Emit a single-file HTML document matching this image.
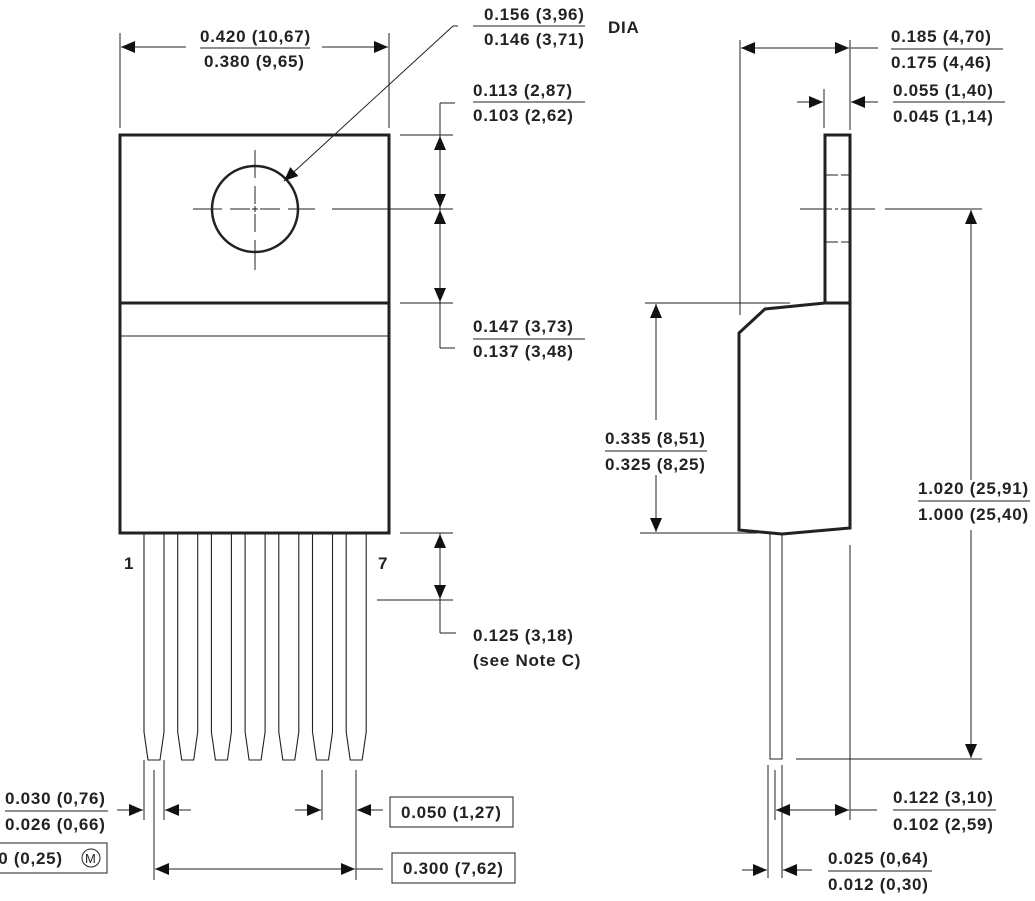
<!DOCTYPE html>
<html><head><meta charset="utf-8"><style>
html,body{margin:0;padding:0;background:#fff;}
svg{display:block;}
text{font-family:"Liberation Sans",Arial,sans-serif;font-weight:bold;font-size:17px;letter-spacing:0.75px;fill:#222;}
</style></head><body>
<svg width="1035" height="901" viewBox="0 0 1035 901" xmlns="http://www.w3.org/2000/svg">
<defs>
<marker id="a" markerWidth="14" markerHeight="12" refX="14" refY="6" orient="auto" markerUnits="userSpaceOnUse">
<path d="M0,0 L14,6 L0,12 Z" fill="#111"/></marker>
</defs>
<g stroke="#222" fill="none">
<rect x="120" y="135" width="269" height="398" stroke-width="3"/>
<line x1="120" y1="303" x2="389" y2="303" stroke-width="3"/>
<line x1="120" y1="336" x2="389" y2="336" stroke-width="1"/>
<circle cx="255" cy="209" r="43" stroke-width="2.5"/>
<g stroke-width="1">
<line x1="255" y1="150" x2="255" y2="178"/><line x1="255" y1="186" x2="255" y2="204"/><line x1="255" y1="206" x2="255" y2="212"/><line x1="255" y1="214" x2="255" y2="232"/><line x1="255" y1="240" x2="255" y2="270"/>
<line x1="193" y1="209" x2="222" y2="209"/><line x1="230" y1="209" x2="250" y2="209"/><line x1="252" y1="209" x2="258" y2="209"/><line x1="260" y1="209" x2="280" y2="209"/><line x1="288" y1="209" x2="315" y2="209"/>
<line x1="332" y1="209" x2="453" y2="209"/>
<line x1="120" y1="33" x2="120" y2="128"/><line x1="389" y1="33" x2="389" y2="128"/>
<line x1="186" y1="47" x2="121" y2="47" marker-end="url(#a)"/>
<line x1="322" y1="47" x2="388" y2="47" marker-end="url(#a)"/>
<line x1="458" y1="26" x2="453" y2="26"/>
<line x1="453" y1="26" x2="284" y2="181" marker-end="url(#a)"/>
<line x1="400" y1="135" x2="453" y2="135"/><line x1="400" y1="303" x2="453" y2="303"/>
<line x1="455" y1="103" x2="440" y2="103"/>
<line x1="440" y1="103" x2="440" y2="348"/>
<line x1="440" y1="348" x2="455" y2="348"/>
<line x1="440" y1="160" x2="440" y2="136" marker-end="url(#a)"/>
<line x1="440" y1="180" x2="440" y2="208" marker-end="url(#a)"/>
<line x1="440" y1="240" x2="440" y2="210" marker-end="url(#a)"/>
<line x1="440" y1="280" x2="440" y2="302" marker-end="url(#a)"/>
<g stroke-width="1.1">
<path d="M144,533 V732 L148,760 H160 L164,732 V533"/>
<path d="M177.7,533 V732 L181.7,760 H193.7 L197.7,732 V533"/>
<path d="M211.4,533 V732 L215.4,760 H227.4 L231.4,732 V533"/>
<path d="M245.1,533 V732 L249.1,760 H261.1 L265.1,732 V533"/>
<path d="M278.8,533 V732 L282.8,760 H294.8 L298.8,732 V533"/>
<path d="M312.5,533 V732 L316.5,760 H328.5 L332.5,732 V533"/>
<path d="M346.2,533 V732 L350.2,760 H362.2 L366.2,732 V533"/>
</g>
<line x1="400" y1="533" x2="453" y2="533"/><line x1="377" y1="600" x2="453" y2="600"/>
<line x1="440" y1="533" x2="440" y2="633"/><line x1="440" y1="633" x2="456" y2="633"/>
<line x1="440" y1="560" x2="440" y2="534" marker-end="url(#a)"/>
<line x1="440" y1="575" x2="440" y2="599" marker-end="url(#a)"/>
<line x1="144" y1="760" x2="144" y2="820"/><line x1="154" y1="770" x2="154" y2="880"/><line x1="164" y1="760" x2="164" y2="820"/>
<line x1="322" y1="770" x2="322" y2="820"/><line x1="356" y1="770" x2="356" y2="880"/>
<line x1="117" y1="810" x2="143" y2="810" marker-end="url(#a)"/>
<line x1="191" y1="810" x2="165" y2="810" marker-end="url(#a)"/>
<line x1="295" y1="810" x2="321" y2="810" marker-end="url(#a)"/>
<line x1="383" y1="810" x2="357" y2="810" marker-end="url(#a)"/>
<line x1="255" y1="869" x2="155" y2="869" marker-end="url(#a)"/>
<line x1="250" y1="869" x2="355" y2="869" marker-end="url(#a)"/>
<line x1="356" y1="869" x2="383" y2="869"/>
<rect x="390" y="797" width="123" height="30"/>
<rect x="392" y="853" width="123" height="30"/>
<rect x="-20" y="843" width="127" height="30"/>
<circle cx="91" cy="858" r="9"/>
<line x1="5" y1="811" x2="108" y2="811"/>
<line x1="200" y1="48" x2="310" y2="48"/>
<line x1="473" y1="26" x2="585" y2="26"/>
<line x1="473" y1="102" x2="585" y2="102"/>
<line x1="473" y1="339" x2="585" y2="339"/>
</g>
<g stroke-width="3">
<rect x="825" y="135" width="25" height="168"/>
<path d="M739,333 L765,309 L825,303 H850 V528 L782,534 L739,530 Z"/>
</g>
<g stroke-width="1">
<line x1="826" y1="175" x2="838" y2="175"/><line x1="841" y1="175" x2="849" y2="175"/>
<line x1="826" y1="242" x2="838" y2="242"/><line x1="841" y1="242" x2="849" y2="242"/>
<line x1="800" y1="209" x2="832" y2="209"/><line x1="835" y1="209" x2="838" y2="209"/><line x1="841" y1="209" x2="875" y2="209"/>
<line x1="885" y1="209" x2="982" y2="209"/>
<rect x="770" y="534" width="12" height="225"/>
<line x1="740" y1="40" x2="740" y2="315"/>
<line x1="850" y1="40" x2="850" y2="130"/>
<line x1="850" y1="545" x2="850" y2="820"/>
<line x1="800" y1="48" x2="741" y2="48" marker-end="url(#a)"/>
<line x1="790" y1="48" x2="849" y2="48" marker-end="url(#a)"/>
<line x1="850" y1="48" x2="878" y2="48"/>
<line x1="824" y1="89" x2="824" y2="128"/>
<line x1="797" y1="102" x2="823" y2="102" marker-end="url(#a)"/>
<line x1="878" y1="102" x2="851" y2="102" marker-end="url(#a)"/>
<line x1="971" y1="480" x2="971" y2="210" marker-end="url(#a)"/>
<line x1="971" y1="530" x2="971" y2="758" marker-end="url(#a)"/>
<line x1="796" y1="759" x2="982" y2="759"/>
<line x1="645" y1="303" x2="790" y2="303"/>
<line x1="640" y1="533" x2="757" y2="533"/>
<line x1="656" y1="420" x2="656" y2="304" marker-end="url(#a)"/>
<line x1="656" y1="475" x2="656" y2="532" marker-end="url(#a)"/>
<line x1="768" y1="765" x2="768" y2="878"/><line x1="775" y1="770" x2="775" y2="820"/><line x1="782" y1="765" x2="782" y2="878"/>
<line x1="810" y1="810" x2="776" y2="810" marker-end="url(#a)"/>
<line x1="810" y1="810" x2="849" y2="810" marker-end="url(#a)"/>
<line x1="850" y1="810" x2="877" y2="810"/>
<line x1="742" y1="870" x2="767" y2="870" marker-end="url(#a)"/>
<line x1="812" y1="870" x2="783" y2="870" marker-end="url(#a)"/>
<line x1="891" y1="49" x2="1003" y2="49"/>
<line x1="893" y1="102" x2="1005" y2="102"/>
<line x1="918" y1="501" x2="1030" y2="501"/>
<line x1="605" y1="451" x2="707" y2="451"/>
<line x1="893" y1="810" x2="996" y2="810"/>
<line x1="828" y1="871" x2="932" y2="871"/>
</g>
</g>
<g>
<text x="200" y="42">0.420 (10,67)</text><text x="204" y="67">0.380 (9,65)</text>
<text x="484" y="20">0.156 (3,96)</text><text x="484" y="45">0.146 (3,71)</text><text x="608" y="33">DIA</text>
<text x="473" y="96">0.113 (2,87)</text><text x="473" y="121">0.103 (2,62)</text>
<text x="473" y="332">0.147 (3,73)</text><text x="473" y="357">0.137 (3,48)</text>
<text x="124" y="569">1</text><text x="378" y="569">7</text>
<text x="473" y="641">0.125 (3,18)</text><text x="473" y="666">(see Note C)</text>
<text x="5" y="804">0.030 (0,76)</text><text x="5" y="830">0.026 (0,66)</text>
<text x="-12" y="864">10 (0,25)</text><text x="85" y="863" style="font-weight:normal;font-size:13px;letter-spacing:0">M</text>
<text x="401" y="818">0.050 (1,27)</text><text x="403" y="874">0.300 (7,62)</text>
<text x="891" y="42">0.185 (4,70)</text><text x="891" y="68">0.175 (4,46)</text>
<text x="893" y="96">0.055 (1,40)</text><text x="893" y="122">0.045 (1,14)</text>
<text x="605" y="444">0.335 (8,51)</text><text x="605" y="470">0.325 (8,25)</text>
<text x="918" y="494">1.020 (25,91)</text><text x="918" y="520">1.000 (25,40)</text>
<text x="893" y="803">0.122 (3,10)</text><text x="893" y="830">0.102 (2,59)</text>
<text x="828" y="864">0.025 (0,64)</text><text x="828" y="890">0.012 (0,30)</text>
</g>
</svg>
</body></html>
